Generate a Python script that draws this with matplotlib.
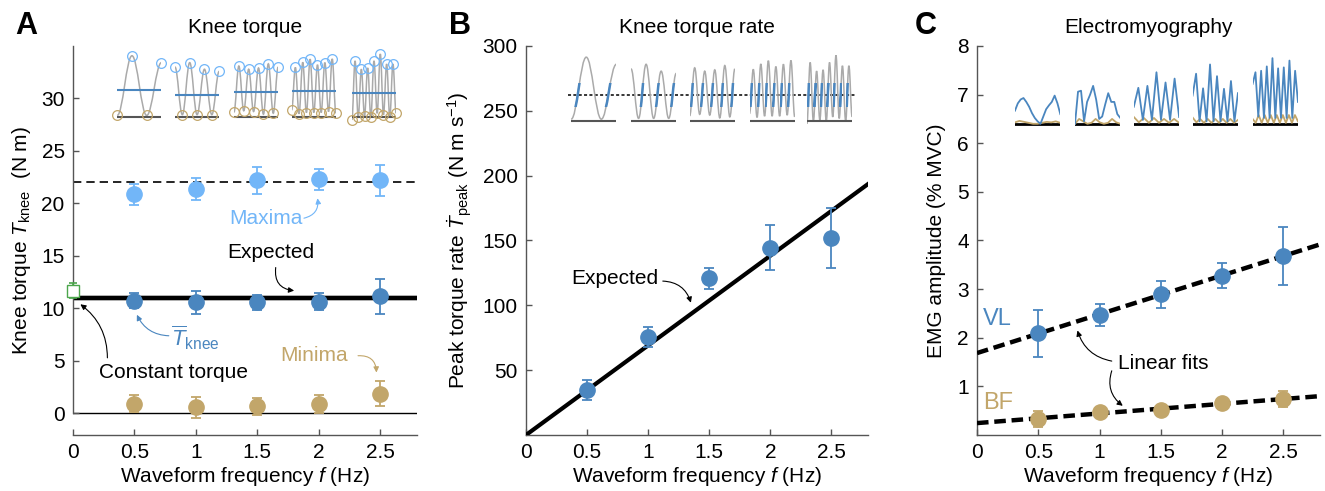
import numpy as np
import matplotlib
matplotlib.use("Agg")
import matplotlib.pyplot as plt
from matplotlib.path import Path
from matplotlib.patches import PathPatch, Rectangle

plt.rcParams['font.family'] = ['Liberation Sans', 'DejaVu Sans']
plt.rcParams['mathtext.fontset'] = 'custom'
plt.rcParams['mathtext.rm'] = 'Liberation Sans'
plt.rcParams['mathtext.it'] = 'Liberation Sans:italic'
plt.rcParams['mathtext.bf'] = 'Liberation Sans:bold'

# ---- data ----
freq = [0.5, 1.0, 1.5, 2.0, 2.5]
freq_labels = ['0', '0.5', '1', '1.5', '2', '2.5']

# panel A: knee torque (N m)
torque_max = [20.9, 21.4, 22.2, 22.3, 22.2]
torque_max_err = [1.0, 1.05, 1.3, 1.0, 1.45]
torque_mean = [10.73, 10.57, 10.57, 10.64, 11.15]
torque_mean_err = [0.7, 1.05, 0.75, 0.8, 1.65]
torque_min = [0.92, 0.57, 0.67, 0.92, 1.88]
torque_min_err = [0.8, 1.0, 0.8, 0.85, 1.2]
constant_torque = 11.7
constant_torque_err = 0.7
expected_torque = 11.0
expected_max = 22.0

# panel B: peak torque rate (N m s^-1)
rate_peak = [34.6, 75.6, 120.8, 144.6, 152.0]
rate_peak_err = [7.7, 8.0, 8.0, 17.0, 23.0]
rate_ref_level = 262.0

# panel C: EMG amplitude (% MVC)
emg_vl = [2.09, 2.47, 2.89, 3.28, 3.68]
emg_vl_err = [0.49, 0.23, 0.27, 0.25, 0.6]
emg_bf = [0.33, 0.48, 0.51, 0.65, 0.74]
emg_bf_err = [0.17, 0.05, 0.05, 0.05, 0.17]

# example torque waveforms (successive extrema, N m) and their means
torque_traces = [
    [0.8, 25.2, 0.8, 22.4],
    [20.6, 1.1, 22.4, 1.1, 19.7, 1.1, 18.8],
    [2.1, 21.0, 2.7, 19.7, 2.4, 20.2, 1.3, 21.9, 1.7, 20.6],
    [3.0, 20.4, 1.5, 22.5, 2.0, 23.8, 2.0, 21.5, 2.0, 22.4, 2.4, 23.9, 1.7],
    [-1.0, 23.1, 0.0, 19.7, 0.5, 20.2, 0.1, 23.1, 1.7, 25.9, 1.1, 21.8, 0.1, 21.8, 1.7],
]
trace_means = [11.0, 9.2, 10.2, 10.6, 9.9]

# example EMG traces (% MVC above baseline)
vl_traces = [
    [0.27, 0.42, 0.5, 0.53, 0.45, 0.35, 0.22, 0.12, 0.05, 0.0, 0.15, 0.3, 0.38, 0.45, 0.58, 0.42, 0.2],
    [0.0, 0.66, 0.68, 0.05, 0.45, 0.6, 0.78, 0.5, 0.1, 0.15, 0.4, 0.63, 0.45, 0.45, 0.2, 0.12],
    [0.35, 0.74, 0.08, 0.78, 0.08, 1.06, 0.08, 0.85, 0.08, 0.93, 0.14],
    [0.58, 1.03, 0.05, 0.73, 0.05, 1.22, 0.05, 0.98, 0.05, 0.72, 0.05, 0.88, 0.05, 0.63],
    [0.82, 1.06, 0.15, 1.09, 0.12, 1.18, 0.12, 1.35, 0.12, 1.14, 0.12, 1.16, 0.12, 1.3, 0.12, 1.09, 0.45],
]
bf_traces = [
    [0.03, 0.06, 0.04, 0.02, 0.0, 0.0, 0.02, 0.04, 0.03, 0.05, 0.02],
    [0.0, 0.1, 0.05, 0.0, 0.02, 0.1, 0.03, 0.0, 0.02, 0.1, 0.03, 0.0],
    [0.14, 0.03, 0.12, 0.02, 0.12, 0.02, 0.1, 0.02, 0.1, 0.02],
    [0.13, 0.03, 0.1, 0.02, 0.1, 0.02, 0.1, 0.02, 0.1, 0.02, 0.1, 0.02, 0.08],
    [0.1, 0.02, 0.18, 0.02, 0.18, 0.02, 0.18, 0.02, 0.18, 0.02, 0.18, 0.02, 0.18, 0.02, 0.18, 0.05],
]

# ---- style ----
DARK_BLUE = '#4A86BF'
LIGHT_BLUE = '#72B6F8'
TAN = '#C2A66A'
GREEN = '#4CA64C'
SPINE = '#555555'
TRACE_GRAY = '#aaaaaa'
FS = 15

fig = plt.figure(figsize=(13.25, 4.91), dpi=100)
W, H = 1325.0, 491.0
bottom, top = 435, 46
axA = fig.add_axes([73 / W, (H - bottom) / H, 344 / W, (bottom - top) / H])
axB = fig.add_axes([526 / W, (H - bottom) / H, 342 / W, (bottom - top) / H])
axC = fig.add_axes([977 / W, (H - bottom) / H, 343 / W, (bottom - top) / H])


def style_axes(ax):
    for s in ['top', 'right']:
        ax.spines[s].set_visible(False)
    for s in ['left', 'bottom']:
        ax.spines[s].set_color(SPINE)
        ax.spines[s].set_linewidth(1.0)
    ax.tick_params(direction='in', length=4, width=1.0, color=SPINE, labelsize=FS, pad=6)
    ax.set_xlim(0, 2.8)
    ax.set_xticks([0] + freq)
    ax.set_xticklabels(freq_labels)
    ax.set_xlabel('Waveform frequency $f$ (Hz)', fontsize=FS, labelpad=2)


def points(ax, y, err, color):
    ax.errorbar(freq, y, yerr=err, fmt='o', color=color, ms=11, elinewidth=1.3,
                capsize=3.5, capthick=1.3, zorder=5)


def arrow(ax, text_xy, tip_xy, color, rad):
    ax.annotate('', xy=tip_xy, xytext=text_xy,
                arrowprops=dict(arrowstyle='-|>', color=color, lw=0.8, mutation_scale=8,
                                shrinkA=0, shrinkB=0, connectionstyle='arc3,rad=%s' % rad))


def wave_path(y, handle=0.38):
    # smooth curve through the extrema, flat at each peak/trough
    verts = [(0, y[0])]
    codes = [Path.MOVETO]
    for i in range(len(y) - 1):
        verts += [(i + handle, y[i]), (i + 1 - handle, y[i + 1]), (i + 1, y[i + 1])]
        codes += [Path.CURVE4] * 3
    return Path(verts, codes)


def wave_inset(ax, bounds, tr):
    ins = ax.inset_axes(bounds, transform=ax.transData)
    ins.axis('off')
    ins.set_xlim(0, len(tr) - 1)
    ins.set_ylim(-2, 28)
    ins.axhline(0, color='#555555', lw=1.5)
    ins.add_patch(PathPatch(wave_path(tr), fill=False, ec=TRACE_GRAY, lw=1.1))
    return ins


# ---- panel A ----
style_axes(axA)
axA.set_ylim(-2.05, 35)
axA.spines['left'].set_bounds(0, 35)
axA.set_yticks([0, 5, 10, 15, 20, 25, 30])
axA.axhline(0, color='black', lw=1.0, zorder=1)
axA.axhline(expected_max, color='black', lw=1.2, ls=(0, (5, 3)), zorder=1)
axA.axhline(expected_torque, color='#bbbbbb', lw=4.2, zorder=2)
axA.axhline(expected_torque, color='black', lw=3.0, zorder=2)
points(axA, torque_max, torque_max_err, LIGHT_BLUE)
points(axA, torque_mean, torque_mean_err, DARK_BLUE)
points(axA, torque_min, torque_min_err, TAN)
axA.errorbar([0], [constant_torque], yerr=[constant_torque_err], fmt='s', mfc='white',
             mec=GREEN, color=GREEN, ms=8, elinewidth=1.2, capsize=3, capthick=1.2,
             zorder=6, clip_on=False)
axA.set_ylabel('Knee torque $T_{\\mathrm{knee}}$  (N m)', fontsize=FS, labelpad=6)
axA.set_title('Knee torque', fontsize=FS, pad=9)

axA.text(1.57, 18.6, 'Maxima', color=LIGHT_BLUE, fontsize=FS, ha='center', va='center')
arrow(axA, (1.88, 18.6), (1.99, 20.5), LIGHT_BLUE, 0.45)
axA.text(1.61, 15.3, 'Expected', color='black', fontsize=FS, ha='center', va='center')
arrow(axA, (1.65, 13.9), (1.8, 11.7), 'black', 0.5)
axA.text(1.0, 7.2, '$\\overline{T}_{\\mathrm{knee}}$', color=DARK_BLUE, fontsize=FS + 1,
         ha='center', va='center')
arrow(axA, (0.78, 7.4), (0.52, 9.4), DARK_BLUE, -0.3)
axA.text(1.96, 5.5, 'Minima', color=TAN, fontsize=FS, ha='center', va='center')
arrow(axA, (2.32, 5.5), (2.47, 3.9), TAN, -0.5)
axA.text(0.82, 3.9, 'Constant torque', color='black', fontsize=FS, ha='center', va='center')
arrow(axA, (0.28, 5.3), (0.06, 10.4), 'black', 0.25)

a_lefts = [0.36, 0.83, 1.31, 1.78, 2.27]
for left, tr, m in zip(a_lefts, torque_traces, trace_means):
    ins = wave_inset(axA, [left, 28.2 - 2 * 0.233, 0.36, 30 * 0.233], tr)
    ins.axhline(m, color=DARK_BLUE, lw=1.5)
    x = np.arange(len(tr))
    tr = np.array(tr)
    hi = tr > m
    ins.plot(x[hi], tr[hi], 'o', mfc='none', mec=LIGHT_BLUE, ms=7, mew=0.9, clip_on=False)
    ins.plot(x[~hi], tr[~hi], 'o', mfc='none', mec=TAN, ms=7, mew=0.9, clip_on=False)

# ---- panel B ----
style_axes(axB)
axB.set_ylim(0, 300)
axB.set_yticks([50, 100, 150, 200, 250, 300])
f_line = np.array([0, 2.8])
axB.plot(f_line, 2 * np.pi * expected_torque * f_line, color='black', lw=3.0, zorder=3)
points(axB, rate_peak, rate_peak_err, DARK_BLUE)
axB.set_ylabel('Peak torque rate $\\dot{T}_{\\mathrm{peak}}$ (N m s$^{-1}$)', fontsize=FS, labelpad=6)
axB.set_title('Knee torque rate', fontsize=FS, pad=9)
axB.text(0.73, 120.5, 'Expected', color='black', fontsize=FS, ha='center', va='center')
arrow(axB, (1.12, 118.7), (1.35, 102), 'black', -0.35)
axB.plot([0.34, 2.69], [rate_ref_level, rate_ref_level], color='black', lw=1.1, ls=(0, (2, 1.5)), zorder=4)

b_lefts = [0.37, 0.86, 1.34, 1.83, 2.3]
scale_b = 1.96
for left, tr in zip(b_lefts, torque_traces):
    ins = wave_inset(axB, [left, 242 - 2 * scale_b, 0.37, 30 * scale_b], tr)
    # highlight the steepest part of each rising edge
    lo, hi = 5.4, 15.1
    for i in range(len(tr) - 1):
        if tr[i + 1] > tr[i] and tr[i] < lo and tr[i + 1] > hi:
            seg = PathPatch(wave_path(tr), fill=False, ec=DARK_BLUE, lw=1.8)
            ins.add_patch(seg)
            seg.set_clip_path(Rectangle((i, lo), 1, hi - lo, transform=ins.transData))

# ---- panel C ----
style_axes(axC)
axC.set_ylim(0, 8)
axC.set_yticks([1, 2, 3, 4, 5, 6, 7, 8])
fit_vl = np.polyfit(freq, emg_vl, 1)
fit_bf = np.polyfit(freq, emg_bf, 1)
axC.plot(f_line, np.polyval(fit_vl, f_line), color='black', lw=3.2, ls=(0, (2.6, 1.3)), zorder=3)
axC.plot(f_line, np.polyval(fit_bf, f_line), color='black', lw=3.2, ls=(0, (2.6, 1.3)), zorder=3)
points(axC, emg_vl, emg_vl_err, DARK_BLUE)
points(axC, emg_bf, emg_bf_err, TAN)
axC.set_ylabel('EMG amplitude (% MVC)', fontsize=FS, labelpad=8)
axC.set_title('Electromyography', fontsize=FS, pad=9)
axC.text(0.17, 2.38, 'VL', color=DARK_BLUE, fontsize=FS + 2, ha='center', va='center')
axC.text(0.17, 0.65, 'BF', color=TAN, fontsize=FS + 2, ha='center', va='center')
axC.text(1.52, 1.48, 'Linear fits', color='black', fontsize=FS, ha='center', va='center')
arrow(axC, (1.1, 1.52), (0.82, 2.15), 'black', -0.3)
arrow(axC, (1.1, 1.32), (1.19, 0.6), 'black', 0.35)

c_lefts = [0.31, 0.8, 1.28, 1.76, 2.25]
for left, vl, bf in zip(c_lefts, vl_traces, bf_traces):
    ins = axC.inset_axes([left, 6.4 - 0.05, 0.37, 1.45], transform=axC.transData)
    ins.axis('off')
    ins.set_ylim(-0.05, 1.4)
    ins.set_xlim(0, 1)
    ins.axhline(0, color='black', lw=2.0)
    ins.plot(np.linspace(0, 1, len(bf)), bf, color=TAN, lw=1.3)
    ins.plot(np.linspace(0, 1, len(vl)), vl, color=DARK_BLUE, lw=1.3)

# panel letters
for letter, xpx in [('A', 26), ('B', 460), ('C', 926)]:
    fig.text(xpx / W, 1 - 26 / H, letter, fontsize=22, fontweight='bold', ha='center', va='center')

fig.savefig('out.png', dpi=100)
